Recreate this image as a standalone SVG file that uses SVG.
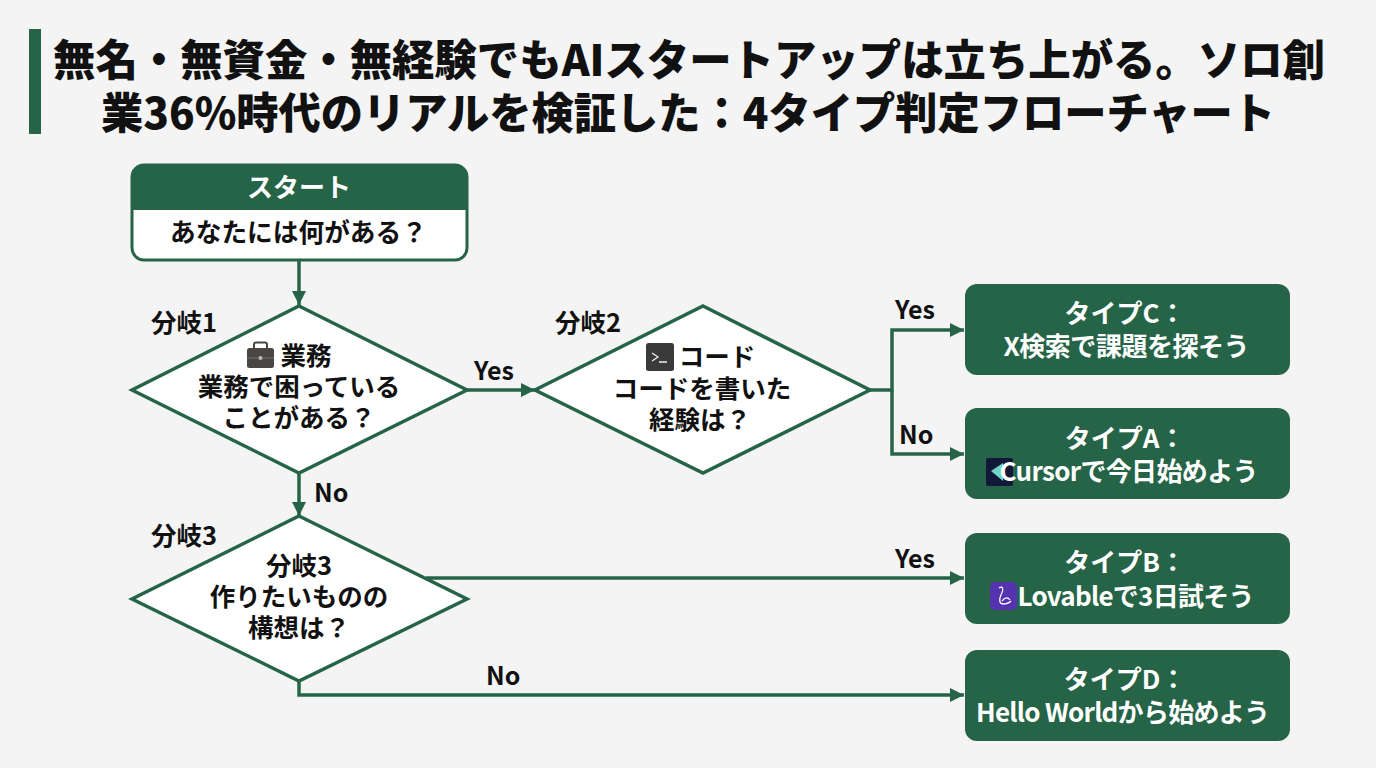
<svg xmlns="http://www.w3.org/2000/svg" width="1376" height="768" viewBox="0 0 1376 768">
<defs>
<marker id="arr" markerUnits="userSpaceOnUse" markerWidth="16" markerHeight="14" refX="14" refY="7" orient="auto"><path d="M0 0L14 7L0 14Z" fill="#266448"/></marker>
</defs>
<style>
text{font-family:"Noto Sans CJK JP","Noto Sans",sans-serif;font-weight:700;text-anchor:middle;fill:#111}
.t{font-size:43px;font-weight:900}
.n{font-size:25.500px}
.l{font-size:25px;text-anchor:start}
.w{fill:#fff;font-size:26px;font-weight:700}
.d{fill:#fff;stroke:#266448;stroke-width:3.500}
.b{fill:#266448}
.c{fill:none;stroke:#266448;stroke-width:3.500}
</style>
<rect width="1376" height="768" fill="#f4f4f4"/>
<g id="title">
<rect x="29" y="29" width="12" height="105" fill="#266448"/>
<text class="t"><tspan x="689" y="76" textLength="1272" lengthAdjust="spacingAndGlyphs">無名・無資金・無経験でもAIスタートアップは立ち上がる。ソロ創</tspan><tspan x="688" y="129" textLength="1174" lengthAdjust="spacingAndGlyphs">業36%時代のリアルを検証した：4タイプ判定フローチャート</tspan></text>
</g>
<g id="connectors">
<path class="c" d="M299 260V305" marker-end="url(#arr)"/>
<path class="c" d="M467 390H535" marker-end="url(#arr)"/>
<path class="c" d="M299 473V516" marker-end="url(#arr)"/>
<path class="c" d="M870 390H892V330H964" marker-end="url(#arr)"/>
<path class="c" d="M892 390V454H964" marker-end="url(#arr)"/>
<path class="c" d="M426 578H964" marker-end="url(#arr)"/>
<path class="c" d="M299 681V695H964" marker-end="url(#arr)"/>
<text class="l" x="474" y="380">Yes</text>
<text class="l" x="314" y="502">No</text>
<text class="l" x="895" y="319">Yes</text>
<text class="l" x="899" y="444">No</text>
<text class="l" x="895" y="568">Yes</text>
<text class="l" x="486" y="685">No</text>
</g>
<g id="start">
<rect x="132" y="165" width="335" height="95" rx="12" fill="#fff" stroke="#266448" stroke-width="3"/>
<path class="b" d="M132 210V177a12 12 0 0 1 12-12H455a12 12 0 0 1 12 12V210Z"/>
<text class="w" x="299" y="197">スタート</text>
<text class="n" x="298.500" y="242" style="font-size:25.700px">あなたには何がある？</text>
</g>
<g id="branch1">
<path class="d" d="M299 306L467 390L299 473L132 390Z"/>
<g id="icon-briefcase">
<rect x="247" y="348" width="27" height="20" rx="2.500" fill="#4a4643"/>
<path d="M254 348v-3.500a2 2 0 0 1 2-2h9a2 2 0 0 1 2 2v3.500" fill="none" stroke="#4a4643" stroke-width="2"/>
<path d="M247 358H274" stroke="#6e6a66" stroke-width="1"/>
<circle cx="260.500" cy="358" r="2" fill="#bbb"/>
</g>
<text class="n"><tspan x="306" y="365">業務</tspan><tspan x="299" y="396">業務で困っている</tspan><tspan x="299" y="427">ことがある？</tspan></text>
<text class="n" x="184" y="332">分岐1</text>
</g>
<g id="branch2">
<path class="d" d="M703 306L870 390L703 473L535 390Z"/>
<g id="icon-terminal">
<rect x="646" y="343" width="28" height="28" rx="2.500" fill="#3a3a3a"/>
<path d="M652 353L658 357L652 361M659 362H667" fill="none" stroke="#eee" stroke-width="1.300"/>
</g>
<text class="n"><tspan x="717" y="366">コード</tspan><tspan x="702" y="398">コードを書いた</tspan><tspan x="700" y="429">経験は？</tspan></text>
<text class="n" x="588" y="332">分岐2</text>
</g>
<g id="branch3">
<path class="d" d="M299 516L467 599L299 681L132 599Z"/>
<text class="n"><tspan x="299" y="575">分岐3</tspan><tspan x="299" y="606">作りたいものの</tspan><tspan x="299" y="637">構想は？</tspan></text>
<text class="n" x="184" y="545">分岐3</text>
</g>
<g id="typeC">
<rect class="b" x="965" y="284" width="325" height="91" rx="12"/>
<text class="w"><tspan x="1125" y="323">タイプC：</tspan><tspan x="1126.500" y="356" textLength="246">X検索で課題を探そう</tspan></text>
</g>
<g id="typeA">
<rect class="b" x="965" y="408" width="325" height="91" rx="12"/>
<g id="icon-cursor">
<rect x="986" y="458" width="27" height="28" rx="2" fill="#12183a"/>
<path d="M991 471L1003 463V481Z" fill="#6fd6c4"/>
</g>
<text class="w"><tspan x="1129" y="481" textLength="259">Cursorで今日始めよう</tspan></text>
<text class="w" x="1125" y="448">タイプA：</text>
</g>
<g id="typeB">
<rect class="b" x="965" y="533" width="325" height="91" rx="12"/>
<rect x="990" y="582" width="27" height="28" rx="5" fill="#5533b0"/>
<path d="M999 588c4-3 5 2 2 7c-2 4-2 9 2 9c3 0 6-1 8-3M1002 601c3-4 6-4 8-1" fill="none" stroke="#fff" stroke-width="1.300"/>
<text class="w"><tspan x="1125" y="572">タイプB：</tspan><tspan x="1136" y="606" textLength="237">Lovableで3日試そう</tspan></text>
</g>
<g id="typeD">
<rect class="b" x="965" y="650" width="325" height="91" rx="12"/>
<text class="w"><tspan x="1125" y="689">タイプD：</tspan><tspan x="1123" y="722" textLength="294">Hello Worldから始めよう</tspan></text>
</g>
</svg>
